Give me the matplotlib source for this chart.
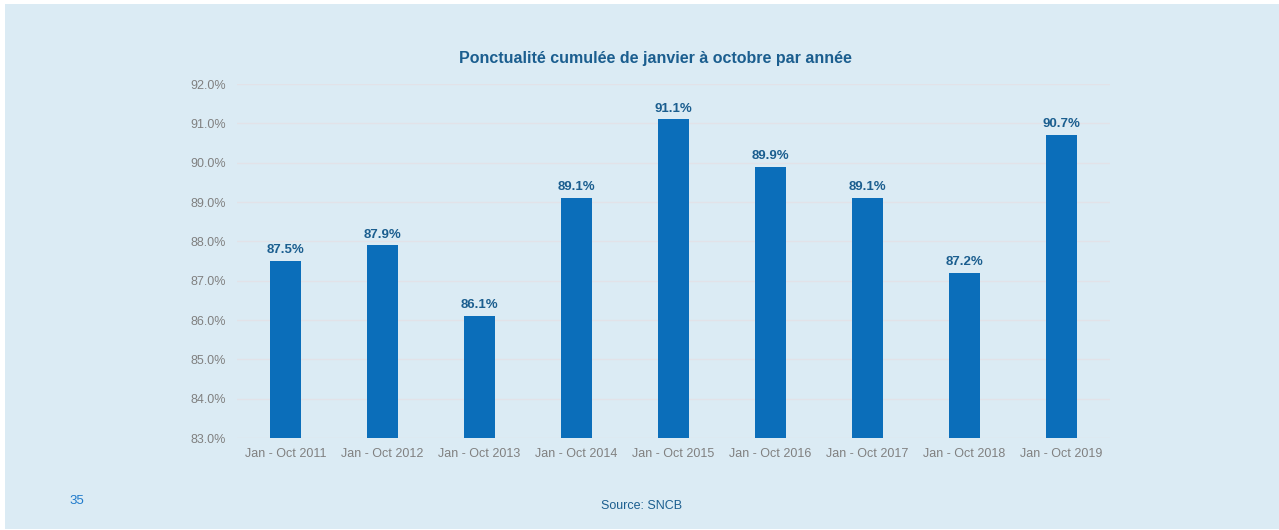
import matplotlib.pyplot as plt
from matplotlib.patches import Rectangle

# data
periods = ['Jan - Oct 2011', 'Jan - Oct 2012', 'Jan - Oct 2013', 'Jan - Oct 2014',
           'Jan - Oct 2015', 'Jan - Oct 2016', 'Jan - Oct 2017', 'Jan - Oct 2018',
           'Jan - Oct 2019']
punctuality = [87.5, 87.9, 86.1, 89.1, 91.1, 89.9, 89.1, 87.2, 90.7]
y_ticks = [83, 84, 85, 86, 87, 88, 89, 90, 91, 92]

bg = '#dbebf4'
bar_col = '#0b6eba'
label_col = '#1b5e8f'

plt.rcParams['font.family'] = ['Liberation Sans', 'DejaVu Sans']

fig = plt.figure(figsize=(12.79, 5.30), dpi=100, facecolor='white')
fig.patches.append(Rectangle((5 / 1279, 1 / 530), 1, 525 / 530, transform=fig.transFigure,
                             facecolor=bg, edgecolor='none', zorder=-1))

ax = fig.add_axes([237 / 1279, 92 / 530, 873 / 1279, 354 / 530])
ax.set_facecolor(bg)

x = range(len(periods))
ax.bar(x, [v - 83 for v in punctuality], bottom=83, width=0.32, color=bar_col, zorder=3)
for i, v in zip(x, punctuality):
    ax.text(i, v + 0.12, f'{v:.1f}%', ha='center', va='bottom', fontsize=9.5,
            fontweight='bold', color=label_col, zorder=4)

ax.set_xlim(-0.5, len(periods) - 0.5)
ax.set_ylim(83, 92)
ax.set_yticks(y_ticks)
ax.set_yticklabels([f'{t:.1f}%' for t in y_ticks])
ax.set_xticks(list(x))
ax.set_xticklabels(periods)
ax.tick_params(axis='both', length=0, labelsize=9, labelcolor='#808080')
ax.tick_params(axis='x', pad=7)
ax.tick_params(axis='y', pad=8)
ax.grid(axis='y', color='#e2e2e8', linewidth=1, zorder=0)
for s in ax.spines.values():
    s.set_visible(False)

fig.text(655 / 1279, 1 - 58 / 530, 'Ponctualité cumulée de janvier à octobre par année',
         ha='center', va='center', fontsize=11.5, fontweight='bold', color=label_col)
fig.text(77 / 1279, 1 - 501 / 530, '35', ha='center', va='center', fontsize=9.5, color='#1f7acb')
fig.text(642 / 1279, 1 - 506 / 530, 'Source: SNCB', ha='center', va='center', fontsize=9,
         color=label_col)

fig.savefig('out.png', dpi=100, facecolor=fig.get_facecolor())
